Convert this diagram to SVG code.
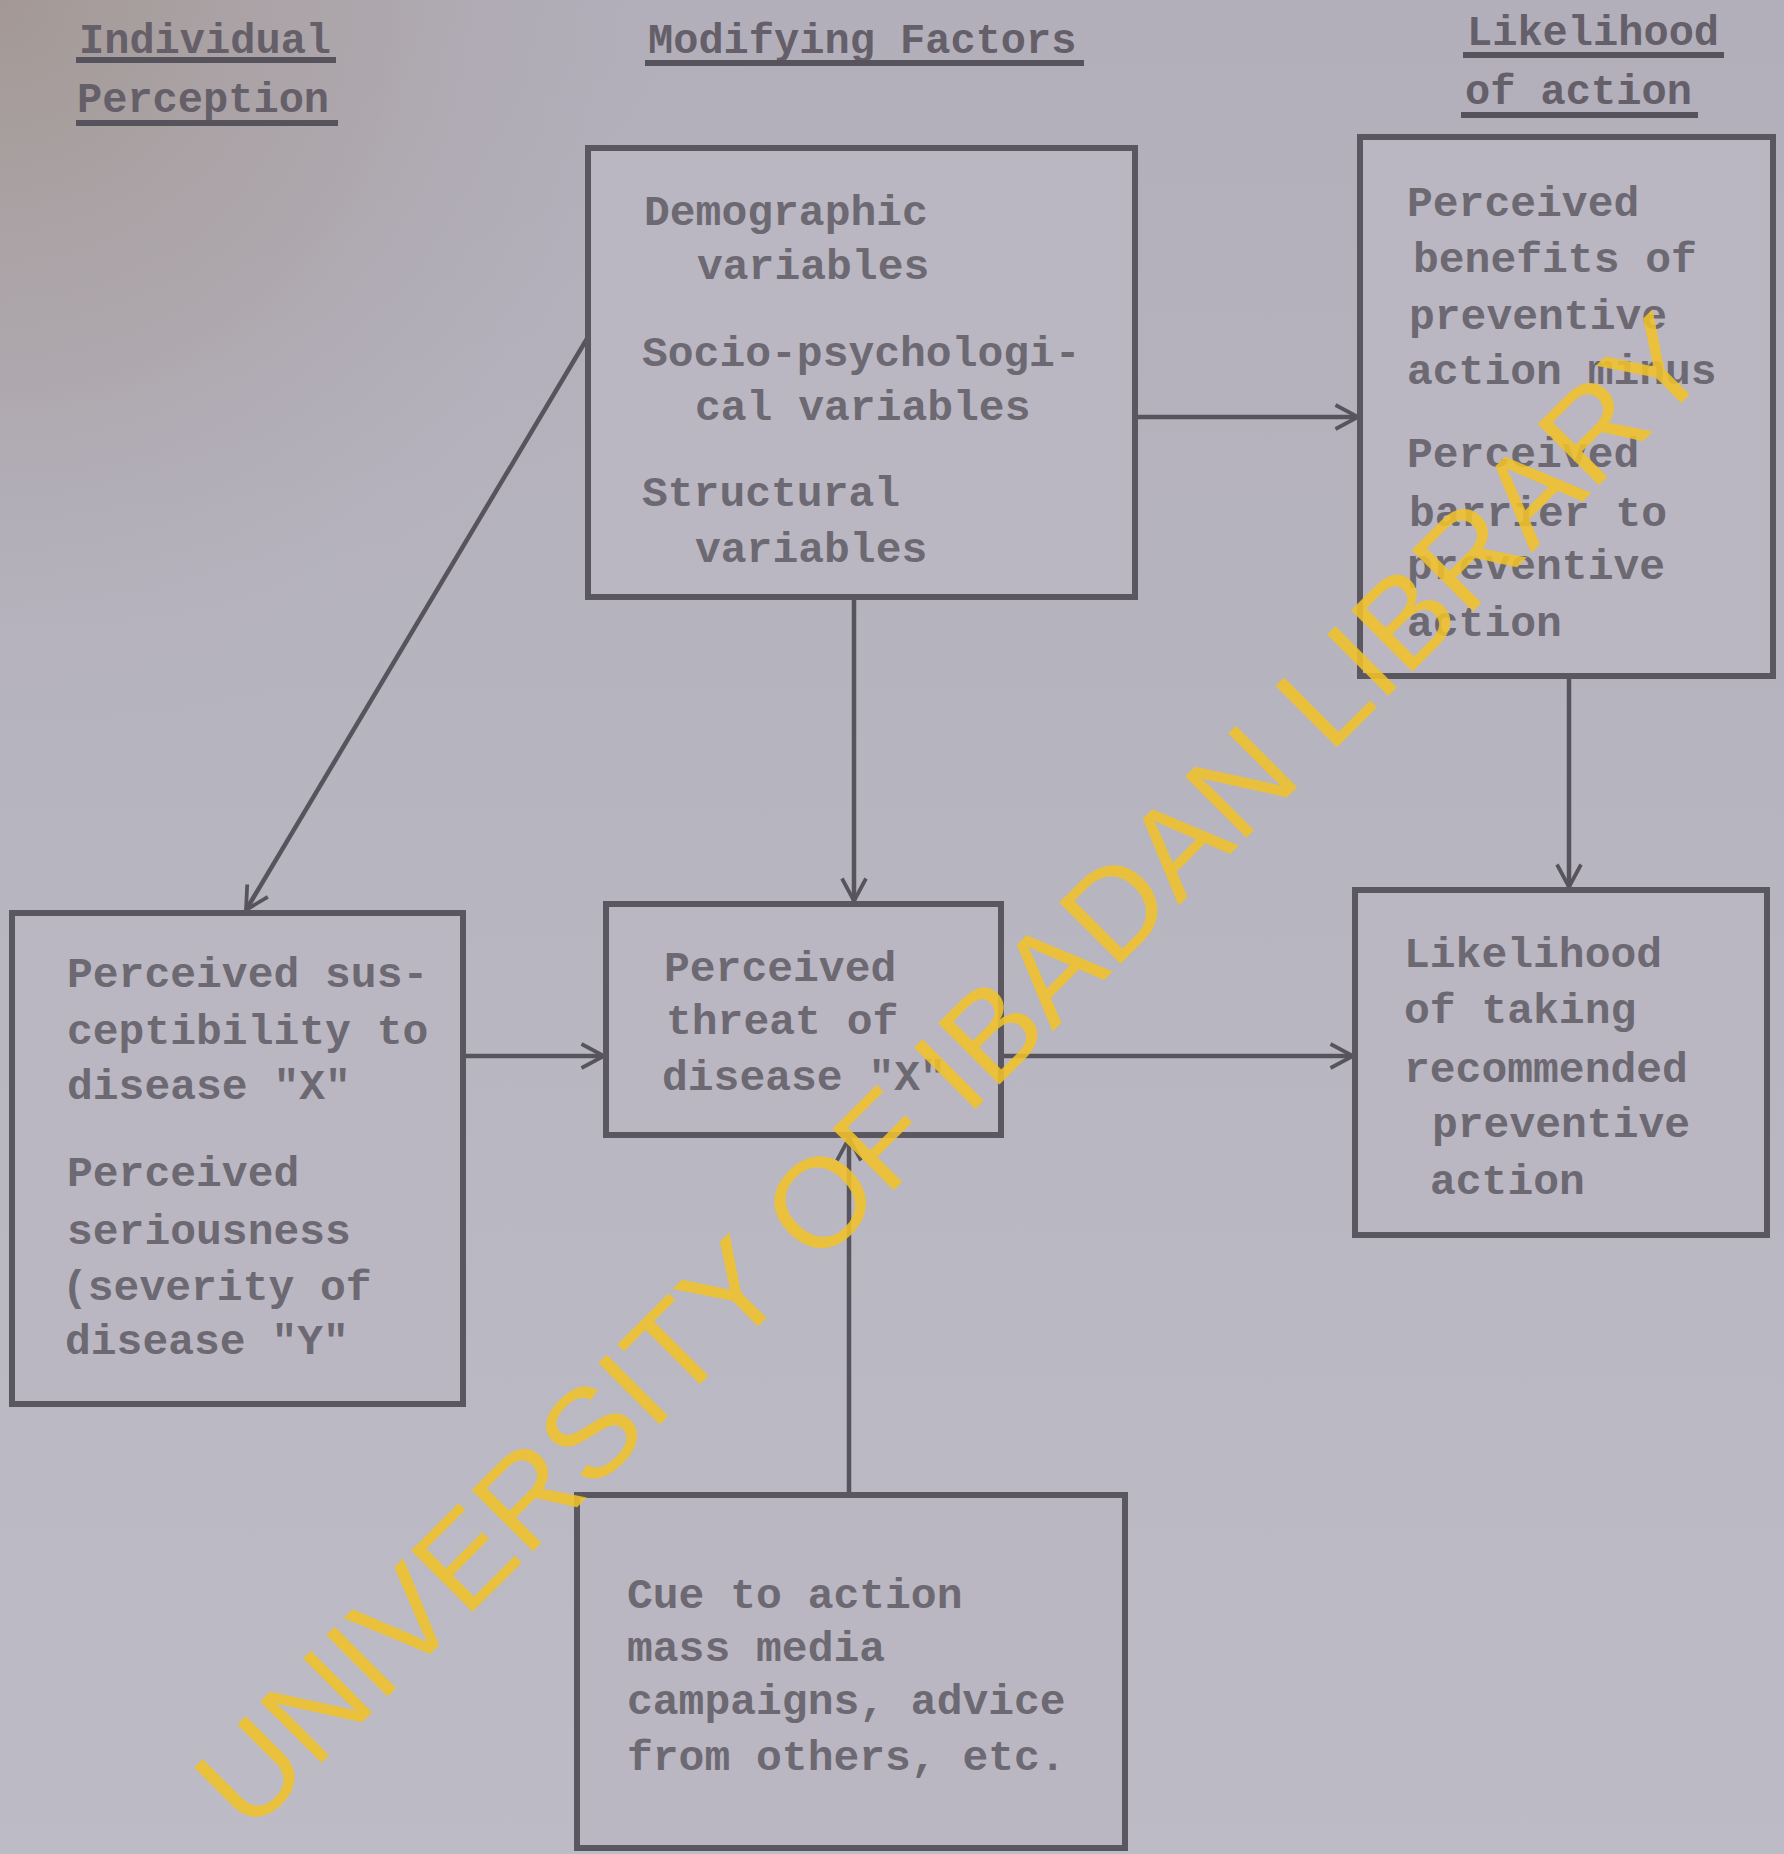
<svg xmlns="http://www.w3.org/2000/svg" width="1784" height="1854" viewBox="0 0 1784 1854">
<defs>
<radialGradient id="stain" cx="0" cy="0" r="760" gradientUnits="userSpaceOnUse">
<stop offset="0" stop-color="#a39894" stop-opacity="1"/>
<stop offset="0.5" stop-color="#aaa1a3" stop-opacity="0.6"/>
<stop offset="1" stop-color="#b4b2be" stop-opacity="0"/>
</radialGradient>
<linearGradient id="bgl" x1="0" y1="0" x2="0" y2="1">
<stop offset="0" stop-color="#b2afbb"/>
<stop offset="1" stop-color="#bdbcc6"/>
</linearGradient>
<marker id="arr" viewBox="0 0 20 20" refX="18" refY="10" markerWidth="30" markerHeight="30" markerUnits="userSpaceOnUse" orient="auto">
<path d="M3,2 L18,10 L3,18" fill="none" stroke="#57545d" stroke-width="2.5"/>
</marker>
<style>
.box{fill:#bab7c2;stroke:#5a5760;stroke-width:6}
.t{font-family:"Liberation Mono","DejaVu Sans Mono",monospace;font-size:43px;font-weight:bold;fill:#6d6972}
.h{font-family:"Liberation Mono","DejaVu Sans Mono",monospace;font-size:42px;font-weight:bold;fill:#645f68}
.ul{stroke:#57535c;stroke-width:6}
.c{fill:none;stroke:#57545d;stroke-width:4.5;marker-end:url(#arr)}
.wm{font-family:"Liberation Sans",Arial,sans-serif;font-size:126px;fill:#f0c12a;fill-opacity:0.88}
</style>
</defs>
<rect width="1784" height="1854" fill="url(#bgl)"/>
<rect width="1784" height="1854" fill="url(#stain)"/>

<g id="headers">
<text class="h" x="79" y="53">Individual</text>
<line class="ul" x1="76" y1="60" x2="336" y2="60"/>
<text class="h" x="77" y="112">Perception</text>
<line class="ul" x1="76" y1="123" x2="338" y2="123"/>
<text class="h" x="648" y="53">Modifying Factors</text>
<line class="ul" x1="645" y1="63" x2="1084" y2="63"/>
<text class="h" x="1467" y="45">Likelihood</text>
<line class="ul" x1="1463" y1="55" x2="1724" y2="55"/>
<text class="h" x="1465" y="104">of action</text>
<line class="ul" x1="1461" y1="115" x2="1698" y2="115"/>
</g>

<g id="connectors">
<line class="c" x1="588" y1="337" x2="246" y2="910"/>
<line class="c" x1="854" y1="597" x2="854" y2="901"/>
<line class="c" x1="1135" y1="417" x2="1358" y2="417"/>
<line class="c" x1="1569" y1="676" x2="1569" y2="887"/>
<line class="c" x1="463" y1="1056" x2="604" y2="1056"/>
<line class="c" x1="1001" y1="1056" x2="1353" y2="1056"/>
<line class="c" x1="849" y1="1501" x2="849" y2="1138"/>
</g>

<g id="modifying">
<rect class="box" x="588" y="148" width="547" height="449"/>
<text class="t" x="644" y="225">Demographic</text>
<text class="t" x="697" y="279">variables</text>
<text class="t" x="642" y="366">Socio-psychologi-</text>
<text class="t" x="695" y="420">cal variables</text>
<text class="t" x="642" y="506">Structural</text>
<text class="t" x="695" y="562">variables</text>
</g>

<g id="benefits">
<rect class="box" x="1360" y="137" width="413" height="539"/>
<text class="t" x="1407" y="216">Perceived</text>
<text class="t" x="1413" y="272">benefits of</text>
<text class="t" x="1409" y="329">preventive</text>
<text class="t" x="1407" y="384">action minus</text>
<text class="t" x="1407" y="467">Perceived</text>
<text class="t" x="1409" y="526">barrier to</text>
<text class="t" x="1407" y="579">preventive</text>
<text class="t" x="1407" y="636">action</text>
</g>

<g id="susceptibility">
<rect class="box" x="12" y="913" width="451" height="491"/>
<text class="t" x="67" y="987">Perceived sus-</text>
<text class="t" x="67" y="1044">ceptibility to</text>
<text class="t" x="67" y="1099">disease "X"</text>
<text class="t" x="67" y="1186">Perceived</text>
<text class="t" x="67" y="1244">seriousness</text>
<text class="t" x="62" y="1300">(severity of</text>
<text class="t" x="65" y="1354">disease "Y"</text>
</g>

<g id="threat">
<rect class="box" x="606" y="904" width="395" height="231"/>
<text class="t" x="664" y="981">Perceived</text>
<text class="t" x="666" y="1034">threat of</text>
<text class="t" x="662" y="1090">disease "X"</text>
</g>

<g id="likelihood">
<rect class="box" x="1355" y="890" width="412" height="345"/>
<text class="t" x="1404" y="967">Likelihood</text>
<text class="t" x="1404" y="1023">of taking</text>
<text class="t" x="1404" y="1082">recommended</text>
<text class="t" x="1432" y="1137">preventive</text>
<text class="t" x="1430" y="1194">action</text>
</g>

<g id="cue">
<rect class="box" x="577" y="1495" width="548" height="353"/>
<text class="t" x="627" y="1608">Cue to action</text>
<text class="t" x="627" y="1661">mass media</text>
<text class="t" x="627" y="1714">campaigns, advice</text>
<text class="t" x="627" y="1770">from others, etc.</text>
</g>

<g id="watermark">
<text class="wm" x="0" y="0" text-anchor="middle" dy="0.36em" textLength="2075" lengthAdjust="spacingAndGlyphs" transform="translate(950,1070) rotate(-45)">UNIVERSITY OF IBADAN LIBRARY</text>
</g>
</svg>
